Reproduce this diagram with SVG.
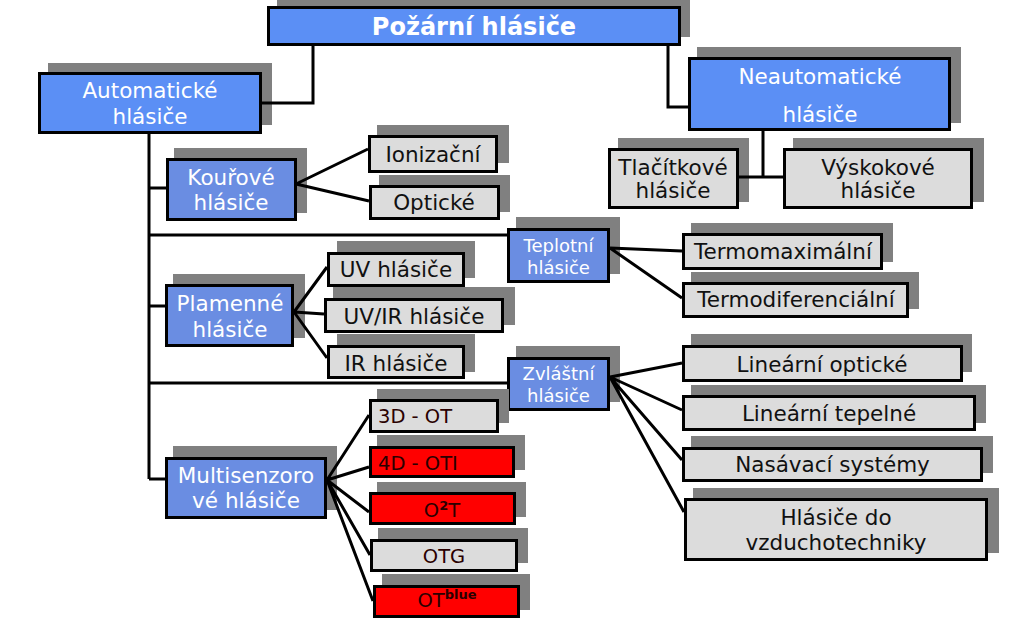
<svg xmlns="http://www.w3.org/2000/svg" width="1024" height="619" viewBox="0 0 1024 619">
<style>
.sh{fill:#808080}
.b1{fill:#5b8ff5;stroke:#000;stroke-width:3}
.b2{fill:#6a8de2;stroke:#000;stroke-width:3}
.g{fill:#dcdcdc;stroke:#000;stroke-width:3}
.r{fill:#ff0000;stroke:#000;stroke-width:3}
text{font-family:"DejaVu Sans",Verdana,sans-serif;text-anchor:middle}
.w{fill:#fff;font-size:21.5px}
.k{fill:#111;font-size:21.5px}
.s{fill:#fff;font-size:18px}
.rt{fill:#2a0000;font-size:19.5px}
.st{text-anchor:start}
.c{stroke:#000;stroke-width:3;fill:none}
</style>
<rect x="0" y="0" width="1024" height="619" fill="#fff"/>
<g id="title"><rect class="sh" x="277" y="-4" width="413" height="41"/><rect class="b1" x="268.5" y="7.5" width="411" height="37"/><text x="474" y="35" fill="#fff" font-size="24" font-weight="bold">Požární hlásiče</text></g>
<g id="auto"><rect class="sh" x="48" y="63" width="224" height="62"/><rect class="b1" x="39.5" y="73.5" width="221" height="59"/><text class="w" x="150" y="98">Automatické</text><text class="w" x="150" y="124">hlásiče</text></g>
<g id="neauto"><rect class="sh" x="697" y="47" width="264" height="76"/><rect class="b1" x="689.5" y="58.5" width="260" height="71"/><text class="w" x="820" y="84">Neautomatické</text><text class="w" x="820" y="122">hlásiče</text></g>
<g id="tlac"><rect class="sh" x="618" y="138" width="131" height="64"/><rect class="g" x="609.5" y="149.5" width="128" height="58"/><text class="k" x="673" y="175">Tlačítkové</text><text class="k" x="673" y="198">hlásiče</text></g>
<g id="vysk"><rect class="sh" x="793" y="138" width="191" height="64"/><rect class="g" x="784.5" y="149.5" width="187" height="58"/><text class="k" x="878" y="175">Výskokové</text><text class="k" x="878" y="198">hlásiče</text></g>
<g id="kour"><rect class="sh" x="174" y="148" width="133" height="65"/><rect class="b2" x="167.5" y="159.5" width="128" height="60"/><text class="w" x="231" y="185">Kouřové</text><text class="w" x="231" y="210">hlásiče</text></g>
<g id="ioniz"><rect class="sh" x="377" y="125" width="132" height="38"/><rect class="g" x="369.5" y="136.5" width="127" height="35"/><text class="k" x="433" y="162">Ionizační</text></g>
<g id="opt"><rect class="sh" x="379" y="175" width="131" height="37"/><rect class="g" x="370.5" y="186.5" width="128" height="32"/><text class="k" x="434" y="210">Optické</text></g>
<g id="plam"><rect class="sh" x="173" y="274" width="132" height="64"/><rect class="b2" x="166.5" y="285.5" width="126" height="60"/><text class="w" x="230" y="311">Plamenné</text><text class="w" x="230" y="337">hlásiče</text></g>
<g id="uv"><rect class="sh" x="337" y="241" width="138" height="37"/><rect class="g" x="328.5" y="253.5" width="135" height="32"/><text class="k" x="396" y="277">UV hlásiče</text></g>
<g id="uvir"><rect class="sh" x="333" y="287" width="182" height="38"/><rect class="g" x="325.5" y="299.5" width="177" height="32"/><text class="k" x="414" y="324">UV/IR hlásiče</text></g>
<g id="ir"><rect class="sh" x="337" y="334" width="138" height="38"/><rect class="g" x="328.5" y="346.5" width="135" height="31"/><text class="k" x="396" y="371">IR hlásiče</text></g>
<g id="tepl"><rect class="sh" x="516" y="217" width="104" height="57"/><rect class="b2" x="508.5" y="229.5" width="100" height="52"/><text class="s" x="558.5" y="252">Teplotní</text><text class="s" x="558.5" y="274">hlásiče</text></g>
<g id="tmax"><rect class="sh" x="691" y="223" width="202" height="39"/><rect class="g" x="683.5" y="234.5" width="198" height="34"/><text class="k" x="783" y="259">Termomaximální</text></g>
<g id="tdif"><rect class="sh" x="691" y="272" width="228" height="37"/><rect class="g" x="683.5" y="283.5" width="224" height="33"/><text class="k" x="796" y="307">Termodiferenciální</text></g>
<g id="zvl"><rect class="sh" x="516" y="346" width="104" height="56"/><rect class="b2" x="508.5" y="358.5" width="100" height="51"/><text class="s" x="558.5" y="380">Zvláštní</text><text class="s" x="558.5" y="402">hlásiče</text></g>
<g id="linopt"><rect class="sh" x="691" y="334" width="281" height="38"/><rect class="g" x="683.5" y="346.5" width="278" height="34"/><text class="k" x="822" y="372">Lineární optické</text></g>
<g id="lintep"><rect class="sh" x="691" y="385" width="295" height="38"/><rect class="g" x="683.5" y="396.5" width="291" height="33"/><text class="k" x="829" y="421">Lineární tepelné</text></g>
<g id="nasav"><rect class="sh" x="691" y="436" width="302" height="37"/><rect class="g" x="683.5" y="448.5" width="298" height="32"/><text class="k" x="832.5" y="472">Nasávací systémy</text></g>
<g id="hlvz"><rect class="sh" x="693" y="488" width="306" height="65"/><rect class="g" x="685.5" y="499.5" width="301" height="60"/><text class="k" x="836" y="525">Hlásiče do</text><text class="k" x="836" y="550">vzduchotechniky</text></g>
<g id="multi"><rect class="sh" x="173" y="446" width="164" height="64"/><rect class="b2" x="166.5" y="458.5" width="159" height="59"/><text class="w" x="246" y="483">Multisenzoro</text><text class="w" x="246" y="508">vé hlásiče</text></g>
<g id="d3"><rect class="sh" x="377" y="389" width="132" height="34"/><rect class="g" x="370.5" y="400.5" width="127" height="31"/><text class="rt st" x="378" y="423" fill="#111">3D - OT</text></g>
<g id="d4"><rect class="sh" x="377" y="435" width="148" height="35"/><rect class="r" x="370.5" y="447.5" width="143" height="29"/><text class="rt st" x="378" y="470">4D - OTI</text></g>
<g id="o2t"><rect class="sh" x="377" y="482" width="149" height="35"/><rect class="r" x="370.5" y="493.5" width="144" height="30"/><text class="rt" x="442" y="517">O<tspan font-size="13" font-weight="bold" dy="-7">2</tspan><tspan dy="7">T</tspan></text></g>
<g id="otg"><rect class="sh" x="378" y="528" width="150" height="35"/><rect class="g" x="371.5" y="540.5" width="145" height="30"/><text class="rt" x="444" y="563" fill="#111">OTG</text></g>
<g id="otb"><rect class="sh" x="382" y="574" width="148" height="36"/><rect class="r" x="374.5" y="586.5" width="144" height="30"/><text class="rt" x="447" y="607">OT<tspan font-size="13" font-weight="bold" dy="-8">blue</tspan></text></g>
<g id="connectors" class="c">
<path d="M313 46 V103 H262"/>
<path d="M668 46 V107 H688"/>
<path d="M763 131 V177 M739 177 H783"/>
<path d="M149 134 V479"/>
<path d="M149 188 H166 M149 235 H507 M149 306 H165 M149 383 H507 M149 479 H165"/>
<path d="M296 184 L368 149 M296 184 L369 201"/>
<path d="M294 312 L327 267 M294 312 L324 314 M294 312 L327 358"/>
<path d="M610 248 L682 251 M610 248 L682 298"/>
<path d="M610 377 L682 363 M610 377 L682 410 M610 377 L682 460 M610 377 L684 512"/>
<path d="M327 480 L369 415 M327 480 L369 467 M327 480 L369 512 M327 480 L370 555 M327 480 L373 601"/>
</g>
</svg>
